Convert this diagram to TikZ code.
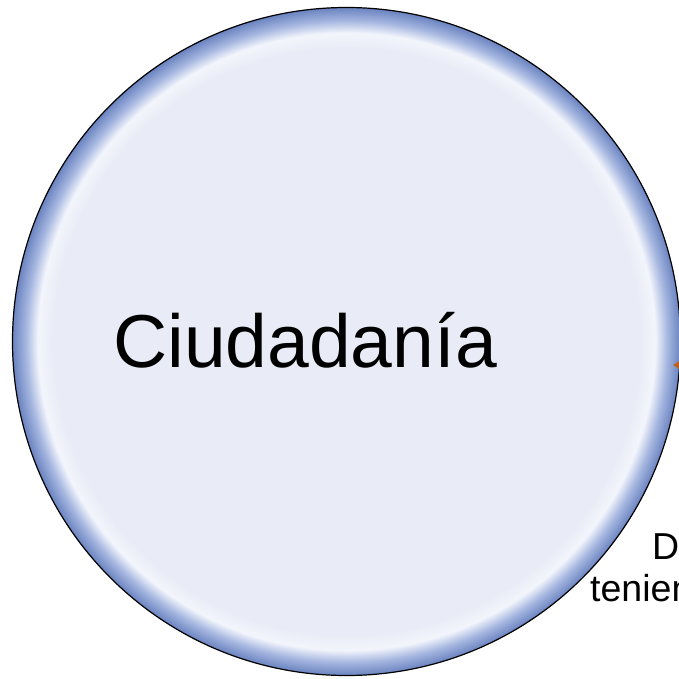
\documentclass[tikz,border=0pt]{standalone}
\usepackage{fontspec}
\setmainfont{Liberation Sans}
\usetikzlibrary{arrows.meta}

\definecolor{lav}{HTML}{E9ECF6}
\definecolor{rimhi}{HTML}{F3F5FC}
\definecolor{rimmid}{HTML}{A6B7E0}
\definecolor{rimdk}{HTML}{6A83C0}
\definecolor{connorange}{HTML}{C0601F}
\pgfdeclareradialshading{rimshade}{\pgfpoint{0bp}{0bp}}{color(0bp)=(lav); color(22.0bp)=(lav); color(23.1bp)=(rimhi); color(24.0bp)=(rimmid); color(25bp)=(rimdk); color(50bp)=(rimdk)}

\begin{document}
\begin{tikzpicture}[x=1pt, y=-1pt,
    disc/.style={circle, inner sep=0pt, minimum size=668pt, shade, shading=rimshade, draw=black, line width=1.2pt},
    bigtxt/.style={anchor=base west, inner sep=0pt, font=\fontsize{75}{80}\selectfont},
    sidetxt/.style={anchor=base west, inner sep=0pt, font=\fontsize{37.5}{42}\selectfont},
    conn/.style={-{Triangle[length=12pt,width=15pt]}, line width=4pt, connorange}]

    \useasboundingbox (0,0) rectangle (679,679);
    \clip (0,0) rectangle (679,679);

    % circle
    \node[disc] (ciud) at (346.5,341.5) {};
    \node[bigtxt] (ciudtxt) at (113,367) {Ciudadanía};

    % connector coming in from the right
    \coordinate (src) at (760,365);
    \coordinate (tip) at (673,365);
    \draw[conn] (src) -- (tip);

    % text of the next shape, cut by the border
    \node[sidetxt] (lbld) at (652,559) {D};
    \node[sidetxt] (lblt) at (590,601) {tenien};
\end{tikzpicture}
\end{document}
